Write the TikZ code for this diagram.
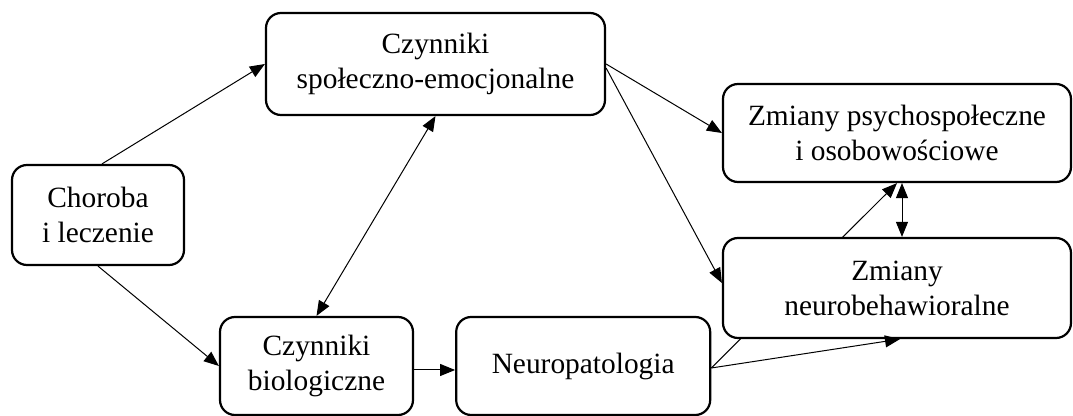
\documentclass[tikz,border=0pt]{standalone}
\usepackage{fontspec}
\setmainfont{Liberation Serif}
\usetikzlibrary{arrows.meta, positioning, backgrounds}
\tikzset{
  boxnode/.style={rounded corners=7.5pt, draw, line width=1.1pt, fill=white, align=center, inner sep=2pt, font=\fontsize{14.7}{17.5}\selectfont},
  widebox/.style={boxnode, minimum width=174pt, minimum height=49pt},
  jarrow/.style={-{Triangle[length=7.5pt,width=6pt]}, line width=0.5pt},
  darrow/.style={{Triangle[length=7.5pt,width=6pt]}-{Triangle[length=7.5pt,width=6pt]}, line width=0.5pt},
}

\begin{document}
\begin{tikzpicture}[x=0.5pt, y=-0.5pt]
  \useasboundingbox (0,0) rectangle (1073,416);
  \node[boxnode, minimum width=86pt, minimum height=50pt] (chor) at (98,215) {Choroba\\i leczenie};
  \node[boxnode, minimum width=169.5pt, minimum height=51pt] (spol) at (435.5,64) {Czynniki\\społeczno-emocjonalne};
  \node[boxnode, minimum width=96.5pt, minimum height=49pt] (bio) at (316.5,366) {Czynniki\\biologiczne};
  \node[boxnode, minimum width=127pt, minimum height=49pt, right=20.5pt of bio] (neuropat) {Neuropatologia};
  \node[widebox] (psych) at (897,133) {Zmiany psychospołeczne\\i osobowościowe};
  \node[widebox, minimum height=50pt] (neuro) at (897,288) {Zmiany\\neurobehawioralne};
  % connectors
  \draw[jarrow] ([xshift=2pt]chor.north) -- (spol.west);
  \draw[jarrow] (chor.south) -- (bio.west);
  \draw[darrow] (bio.north) -- (spol.south);
  \draw[jarrow] ([yshift=-2pt]bio.east) -- ([yshift=-2pt]neuropat.west);
  \draw[jarrow] (spol.east) -- (psych.west);
  \draw[jarrow] ([yshift=-2pt]spol.east) -- ([yshift=2.5pt]neuro.west);
  \draw[darrow] ([xshift=2.5pt]psych.south) -- ([xshift=2.5pt]neuro.north);
  \draw[jarrow] ([yshift=-1pt]neuropat.east) -- ([xshift=1.5pt]neuro.south);
  \begin{pgfonlayer}{background}
    \draw[jarrow] ([yshift=-1pt]neuropat.east) -- (psych.south);
  \end{pgfonlayer}
\end{tikzpicture}
\end{document}
